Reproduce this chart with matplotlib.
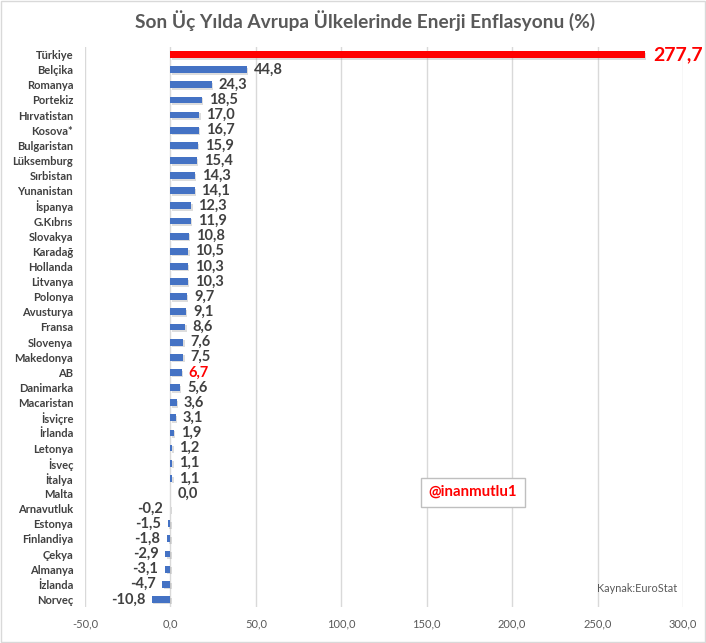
import matplotlib
matplotlib.use("Agg")
import matplotlib.pyplot as plt
import matplotlib.patheffects as pe
from matplotlib.patches import Rectangle

plt.rcParams['font.family'] = ['Lato', 'DejaVu Sans']

countries = ["Türkiye", "Belçika", "Romanya", "Portekiz", "Hırvatistan", "Kosova*",
             "Bulgaristan", "Lüksemburg", "Sırbistan", "Yunanistan", "İspanya", "G.Kıbrıs",
             "Slovakya", "Karadağ", "Hollanda", "Litvanya", "Polonya", "Avusturya", "Fransa",
             "Slovenya", "Makedonya", "AB", "Danimarka", "Macaristan", "İsviçre", "İrlanda",
             "Letonya", "İsveç", "İtalya", "Malta", "Arnavutluk", "Estonya", "Finlandiya",
             "Çekya", "Almanya", "İzlanda", "Norveç"]
values = [277.7, 44.8, 24.3, 18.5, 17.0, 16.7, 15.9, 15.4, 14.3, 14.1, 12.3, 11.9,
          10.8, 10.5, 10.3, 10.3, 9.7, 9.1, 8.6, 7.6, 7.5, 6.7, 5.6, 3.6, 3.1, 1.9,
          1.2, 1.1, 1.1, 0.0, -0.2, -1.5, -1.8, -2.9, -3.1, -4.7, -10.8]
x_ticks = [-50, 0, 50, 100, 150, 200, 250, 300]

fig = plt.figure(figsize=(7.06, 6.43), dpi=100)
ax = fig.add_axes([0.1204, 0.056, 0.847, 0.871])

ypos = list(range(len(countries)))
colors = []
for c in countries:
    colors.append("#FF0000" if c == "Türkiye" else "#4472C4")

shadow = [pe.SimplePatchShadow(offset=(1.0, -1.2), shadow_rgbFace="#A0A0A0", alpha=0.35), pe.Normal()]
bars = ax.barh(ypos, values, height=0.45, color=colors, zorder=3)
for b in bars:
    b.set_path_effects(shadow)

ax.set_ylim(len(countries) - 0.5, -0.5)
ax.set_xlim(-50, 300)
ax.set_xticks(x_ticks)
ax.set_xticklabels([f"{t:.1f}".replace(".", ",") for t in x_ticks], color="#595959", fontsize=8)
ax.set_yticks(ypos)
ax.set_yticklabels(countries, fontsize=8, color="#404040", fontweight="bold")
ax.tick_params(axis="both", length=0)
ax.tick_params(axis="y", pad=8.5)
ax.tick_params(axis="x", pad=8)
ax.grid(axis="x", color="#D9D9D9", linewidth=1, zorder=0)
for s in ax.spines.values():
    s.set_visible(False)

for y, v, c in zip(ypos, values, countries):
    txt = f"{v:.1f}".replace(".", ",")
    if c == "Türkiye":
        ax.annotate(txt, (v, y), xytext=(6, 0), textcoords="offset points",
                    ha="left", va="center", fontsize=14, fontweight="bold", color="#FF0000")
    elif v >= 0:
        col = "#FF0000" if c == "AB" else "#404040"
        ax.annotate(txt, (v, y), xytext=(5, 0), textcoords="offset points",
                    ha="left", va="center", fontsize=10.5, fontweight="bold", color=col)
    else:
        ax.annotate(txt, (v, y), xytext=(-5, 0), textcoords="offset points",
                    ha="right", va="center", fontsize=10.5, fontweight="bold", color="#404040")

fig.text(0.517, 0.968, "Son Üç Yılda Avrupa Ülkelerinde Enerji Enflasyonu (%)",
         ha="center", va="center", fontsize=13.8, fontweight="bold", color="#595959")

fig.text(0.670, 0.2348, "@inanmutlu1", ha="center", va="center", fontsize=10.8,
         fontweight="bold", color="#FF0000",
         bbox=dict(boxstyle="square,pad=0.5", facecolor="white", edgecolor="#BFBFBF", linewidth=1))

fig.text(0.902, 0.085, "Kaynak:EuroStat", ha="center", va="center", fontsize=7.8, color="#595959")

fig.patches.append(Rectangle((0.001, 0.001), 0.997, 0.997, transform=fig.transFigure,
                             fill=False, edgecolor="#D9D9D9", linewidth=1))

fig.savefig("out.png", dpi=100)
